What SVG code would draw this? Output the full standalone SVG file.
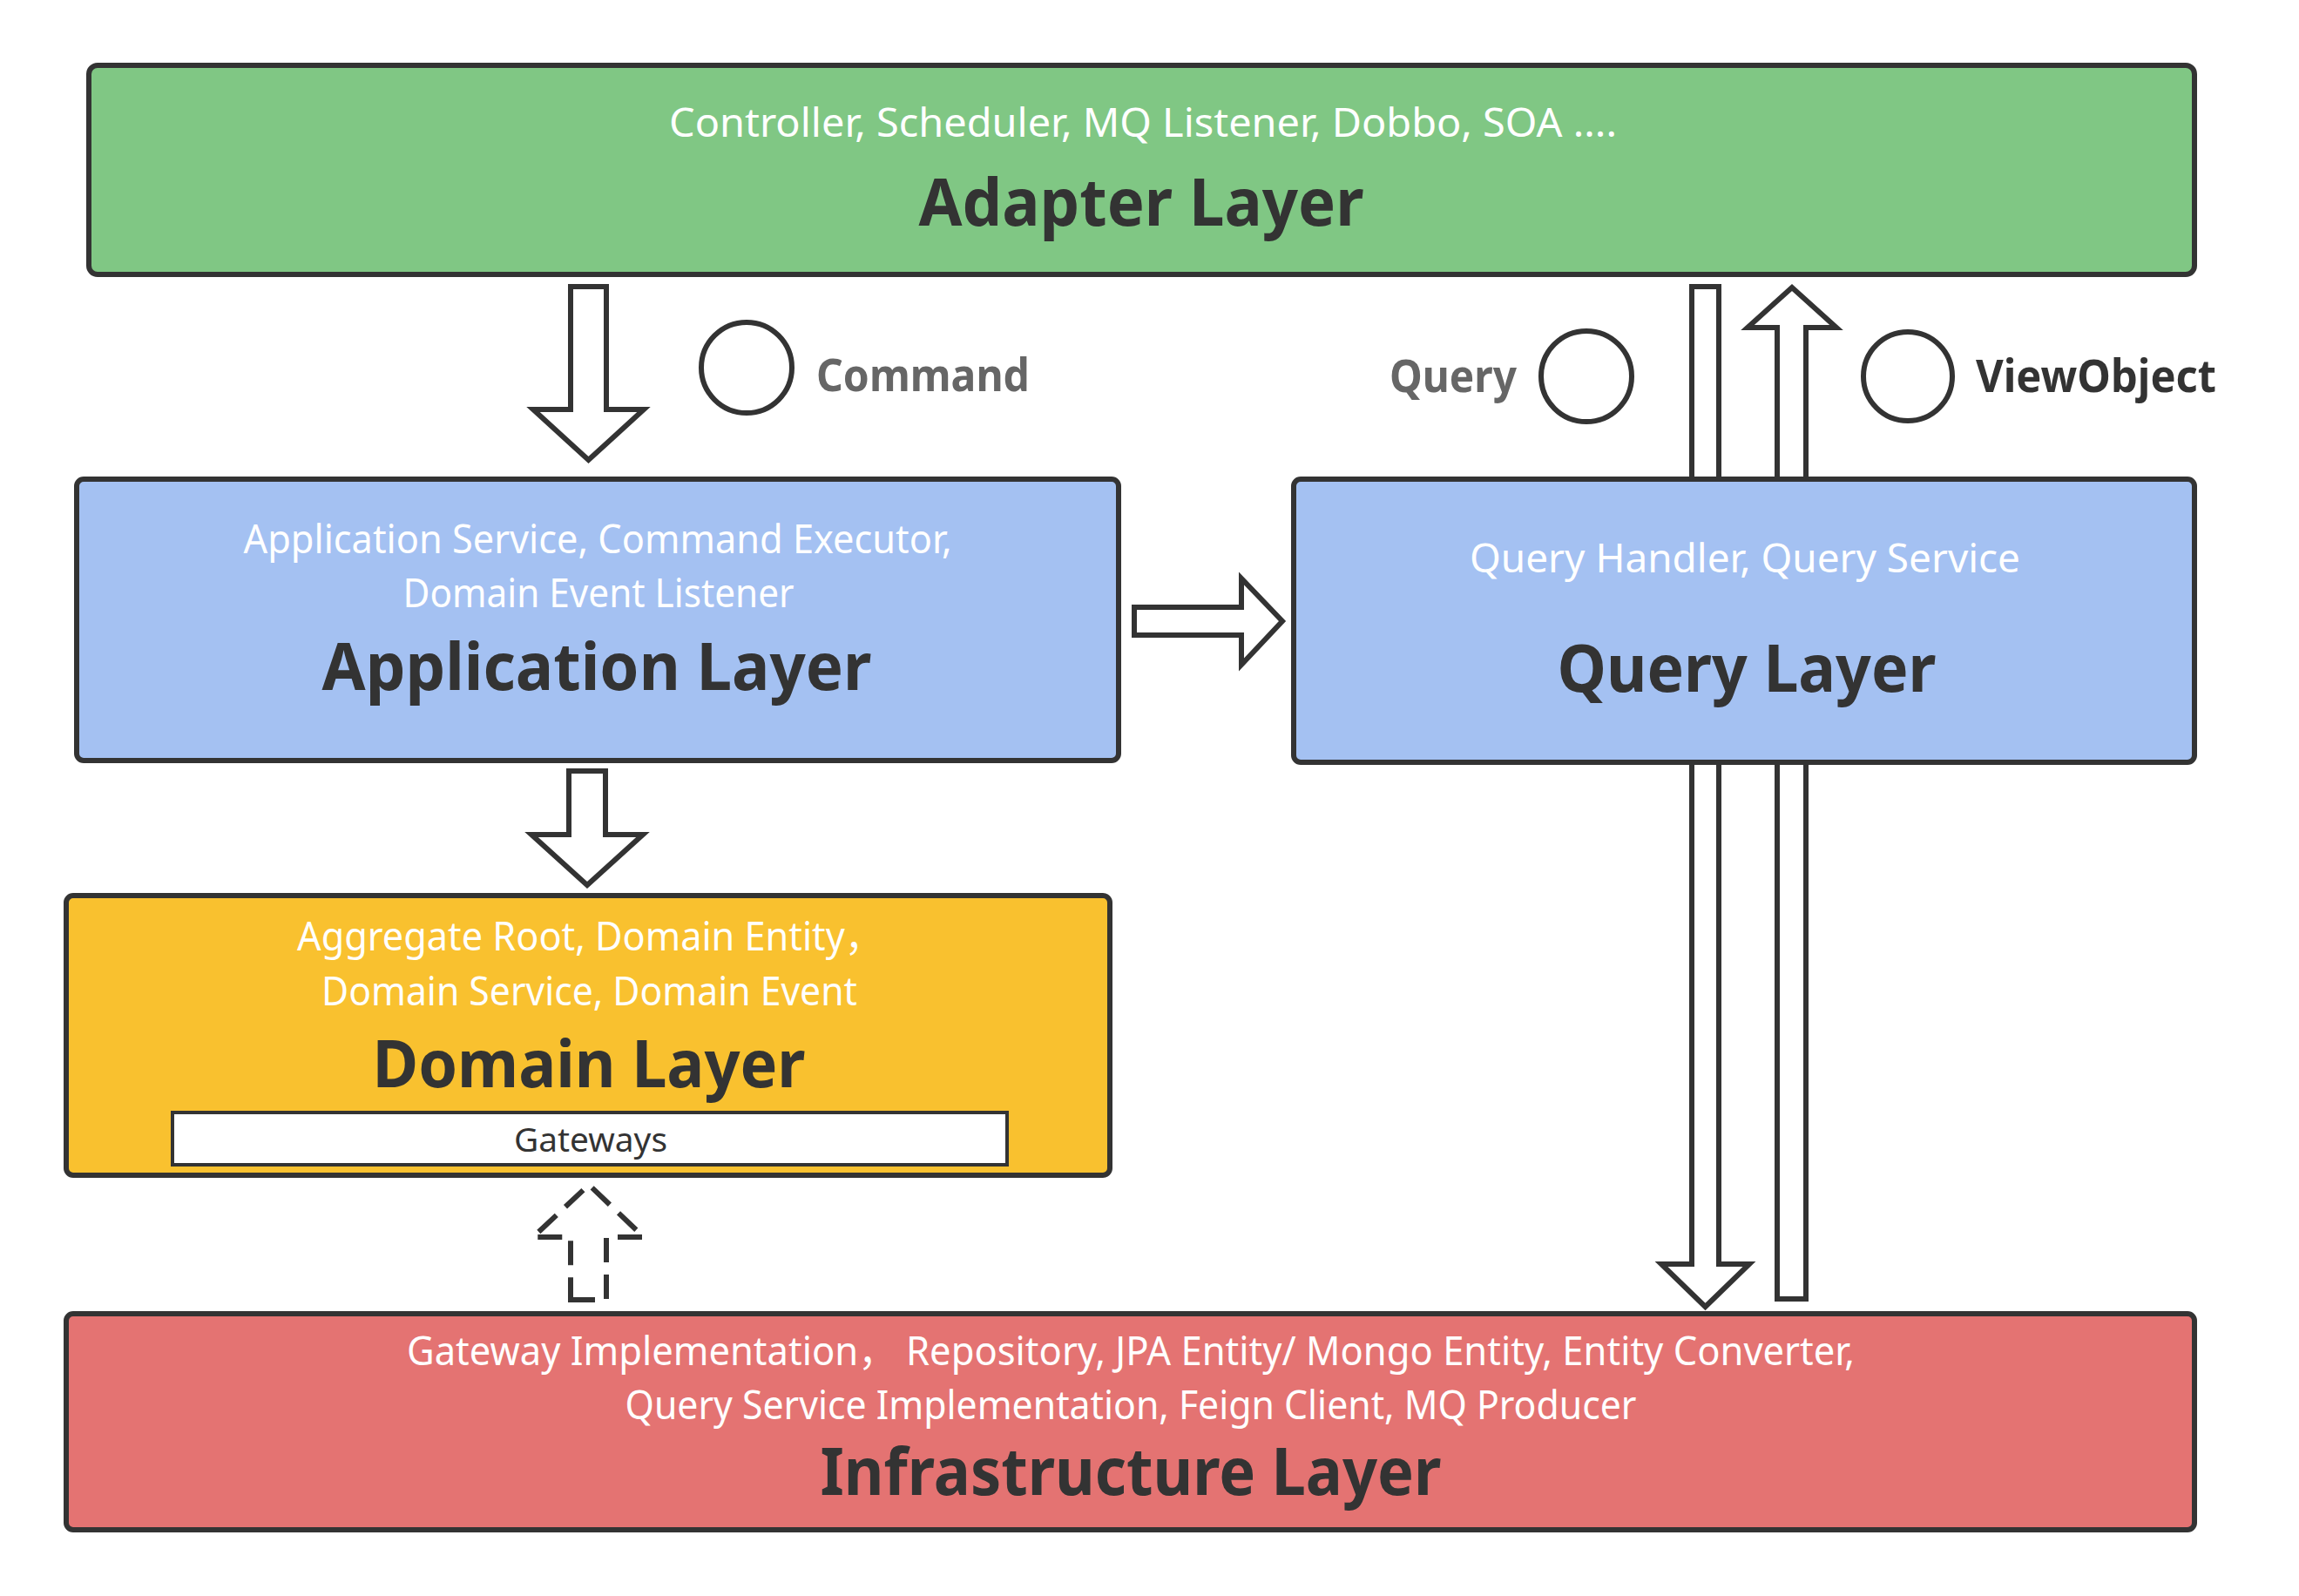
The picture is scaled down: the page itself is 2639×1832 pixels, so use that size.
<svg xmlns="http://www.w3.org/2000/svg" width="2639" height="1832" viewBox="0 0 2639 1832">
  <style>
    .box { stroke: #333333; stroke-width: 6; }
    .arrow { fill: #ffffff; stroke: #333333; stroke-width: 6; stroke-linejoin: miter; stroke-miterlimit: 10; }
    .dashed { stroke-dasharray: 28 14; }
    .sub { font-family: "Noto Sans", "Noto Sans CJK SC", sans-serif; font-size: 46px; fill: #ffffff; }
    .title { font-family: "Noto Sans", "Noto Sans CJK SC", sans-serif; font-size: 75px; font-weight: 700; fill: #333333; }
    .label { font-family: "Noto Sans", sans-serif; font-size: 52px; font-weight: 700; }
    .small { font-family: "Noto Sans", sans-serif; font-size: 38px; fill: #333333; }
    .circle { fill: #ffffff; stroke: #333333; stroke-width: 6; }
  </style>
  <rect width="2639" height="1832" fill="#ffffff"/>

  <g id="connectors">
    <polygon class="arrow" points="1942,329 1973,329 1973,1451 2008,1451 1957.5,1500 1907,1451 1942,1451"/>
    <polygon class="arrow" points="2040,1491 2073,1491 2073,376 2108,376 2057,330 2006,376 2040,376"/>
    <polygon class="arrow" points="655,329 696,329 696,470 739,470 675.5,528 612,470 655,470"/>
    <polygon class="arrow" points="653,885 695,885 695,958 738,958 674,1016 610,958 653,958"/>
    <polygon class="arrow" points="1302,697 1425,697 1425,664 1472,713 1425,763 1425,729 1302,729"/>
    <polygon class="arrow dashed" points="655,1492 696,1492 696,1420 739,1420 676,1360 612,1420 655,1420"/>
  </g>

  <g id="adapter">
    <rect class="box" x="102" y="75" width="2417" height="240" rx="10" fill="#80C784"/>
    <text class="sub" x="1312" y="157" text-anchor="middle" textLength="1088" lengthAdjust="spacingAndGlyphs">Controller, Scheduler, MQ Listener, Dobbo, SOA ....</text>
    <text class="title" x="1310" y="259" text-anchor="middle" textLength="511" lengthAdjust="spacingAndGlyphs">Adapter Layer</text>
  </g>

  <g id="command">
    <circle class="circle" cx="857" cy="422" r="52"/>
    <text class="label" x="937" y="449" fill="#666666" textLength="245" lengthAdjust="spacingAndGlyphs">Command</text>
  </g>

  <g id="query-label">
    <text class="label" x="1595" y="450" fill="#666666" textLength="146" lengthAdjust="spacingAndGlyphs">Query</text>
    <circle class="circle" cx="1821" cy="432" r="52"/>
  </g>

  <g id="viewobject">
    <circle class="circle" cx="2190" cy="432" r="51"/>
    <text class="label" x="2268" y="450" fill="#333333" textLength="276" lengthAdjust="spacingAndGlyphs">ViewObject</text>
  </g>

  <g id="application">
    <rect class="box" x="88" y="550" width="1196" height="323" rx="8" fill="#A4C1F2"/>
    <text class="sub" x="686" y="635" text-anchor="middle" textLength="813" lengthAdjust="spacingAndGlyphs">Application Service, Command Executor,</text>
    <text class="sub" x="687" y="697" text-anchor="middle" textLength="449" lengthAdjust="spacingAndGlyphs">Domain Event Listener</text>
    <text class="title" x="685" y="792" text-anchor="middle" textLength="631" lengthAdjust="spacingAndGlyphs">Application Layer</text>
  </g>

  <g id="query">
    <rect class="box" x="1485" y="550" width="1034" height="325" rx="8" fill="#A4C1F2"/>
    <text class="sub" x="2003" y="657" text-anchor="middle" textLength="632" lengthAdjust="spacingAndGlyphs">Query Handler, Query Service</text>
    <text class="title" x="2005" y="794" text-anchor="middle" textLength="435" lengthAdjust="spacingAndGlyphs">Query Layer</text>
  </g>

  <g id="domain">
    <rect class="box" x="76" y="1028" width="1198" height="321" rx="8" fill="#F9C12F"/>
    <text class="sub" x="341" y="1091" textLength="672" lengthAdjust="spacingAndGlyphs">Aggregate Root, Domain Entity，</text>
    <text class="sub" x="369" y="1154" textLength="615" lengthAdjust="spacingAndGlyphs">Domain Service, Domain Event</text>
    <text class="title" x="676" y="1248" text-anchor="middle" textLength="497" lengthAdjust="spacingAndGlyphs">Domain Layer</text>
    <g id="gateways">
      <rect x="198" y="1277" width="958" height="60" fill="#ffffff" stroke="#333333" stroke-width="4"/>
      <text class="small" x="678" y="1322" text-anchor="middle" textLength="176" lengthAdjust="spacingAndGlyphs">Gateways</text>
    </g>
  </g>

  <g id="infrastructure">
    <rect class="box" x="76" y="1508" width="2443" height="248" rx="8" fill="#E47372"/>
    <text class="sub" x="467" y="1567" textLength="1662" lengthAdjust="spacingAndGlyphs">Gateway Implementation， Repository, JPA Entity/ Mongo Entity, Entity Converter,</text>
    <text class="sub" x="1298" y="1629" text-anchor="middle" textLength="1161" lengthAdjust="spacingAndGlyphs">Query Service Implementation, Feign Client, MQ Producer</text>
    <text class="title" x="1298" y="1716" text-anchor="middle" textLength="713" lengthAdjust="spacingAndGlyphs">Infrastructure Layer</text>
  </g>
</svg>
